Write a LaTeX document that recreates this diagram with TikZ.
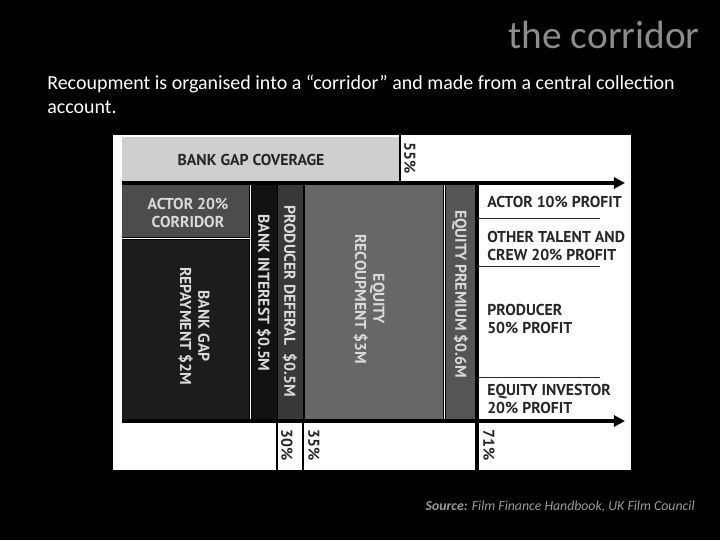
\documentclass[tikz,border=0pt]{standalone}
\usepackage{fontspec}
\setmainfont{Carlito}
\newfontfamily\chartfont{PT Sans}
\usetikzlibrary{positioning,arrows.meta}

\definecolor{titlegray}{HTML}{8C8C8C}
\definecolor{srcgray}{HTML}{9A9A9A}
\definecolor{covergray}{HTML}{CFCFCF}
\definecolor{actorgray}{HTML}{4C4C4C}
\definecolor{repaydark}{HTML}{1C1C1C}
\definecolor{interestdark}{HTML}{121212}
\definecolor{deferalgray}{HTML}{383838}
\definecolor{recoupgray}{HTML}{676767}
\definecolor{premiumgray}{HTML}{555555}
\definecolor{inktext}{HTML}{262626}
\definecolor{paletext}{HTML}{DADADA}

\tikzset{
  chart/.style={font=\chartfont\bfseries\fontsize{11.2}{13}\selectfont, inner sep=0pt, align=center},
  darkchart/.style={chart, text=inktext},
  palechart/.style={chart, text=paletext},
  sideways/.style={rotate=-90},
  profit/.style={darkchart, anchor=west, align=left},
  flow/.style={line width=2.2pt, -{Triangle[length=8pt,width=8pt]}},
  cut/.style={line width=1.6pt},
  split/.style={line width=0.6pt, inktext},
}

\begin{document}
\begin{tikzpicture}[x=0.025cm, y=-0.025cm]
    % slide
    \fill[black] (0,0) rectangle (720,540);
    \useasboundingbox (0,0) rectangle (720,540);
    \node[anchor=east, text=titlegray, font=\fontsize{28}{30}\selectfont, inner sep=0pt] (title) at (700,35) {the corridor};
    \node[anchor=north west, text=white, font=\fontsize{14.2}{17}\selectfont, align=left, inner sep=0pt] (intro) at (47,75)
        {Recoupment is organised into a ``corridor'' and made from a central collection\\account.};

    % scanned chart
    \fill[white] (113,135) rectangle (631,470);
    \fill[covergray] (122,137) rectangle (400,181);
    \fill[black] (122,181) rectangle (477,421);
    \fill[actorgray] (122,185) rectangle (249,237);
    \fill[repaydark] (122,239.5) rectangle (249,419);
    \fill[interestdark] (251.5,185) rectangle (277,419);
    \fill[deferalgray] (278,185) rectangle (303,419);
    \fill[recoupgray] (305,185) rectangle (443,419);
    \fill[premiumgray] (445.5,185) rectangle (475,419);
    \draw[white, line width=0.9pt] (122,238.3) -- (250.3,238.3);
    \draw[white, line width=0.9pt] (250.3,185) -- (250.3,419);
    \draw[white, line width=0.9pt] (444.3,185) -- (444.3,419);

    \node[darkchart] (cover) at (251,160) {BANK GAP COVERAGE};
    \node[palechart] (actorcorr) at (188,213) {ACTOR 20\%\\CORRIDOR};
    \node[palechart, sideways] (repay) at (194,326) {BANK GAP\\REPAYMENT \$2M};
    \node[palechart, sideways] (interest) at (264,293) {BANK INTEREST \$0.5M};
    \node[palechart, sideways] (deferal) at (290,301) {PRODUCER DEFERAL \ \$0.5M};
    \node[palechart, sideways] (recoup) at (369,299) {EQUITY\\RECOUPMENT \$3M};
    \node[palechart, sideways] (premium) at (460,294) {EQUITY PREMIUM \$0.6M};

    % flow lines and cut-off points
    \coordinate (topstart) at (122,183);
    \coordinate (topend) at (625,183);
    \coordinate (botstart) at (122,421);
    \coordinate (botend) at (625,421);
    \coordinate (covertop) at (400,135);
    \coordinate (cut30) at (277,470);
    \coordinate (cut35) at (303,470);
    \coordinate (cut71) at (477,470);
    \draw[cut] (covertop) -- (covertop |- topstart);
    \draw[cut] (cut30) -- (cut30 |- botstart);
    \draw[cut] (cut35) -- (cut35 |- botstart);
    \draw[line width=2.2pt] (cut71) -- (cut71 |- topstart);
    \draw[flow] (topstart) -- (topend);
    \draw[flow] (botstart) -- (botend);

    \node[darkchart, sideways] (p55) at (410,158) {55\%};
    \node[darkchart, sideways] (p30) at (287,445) {30\%};
    \node[darkchart, sideways] (p35) at (314,445) {35\%};
    \node[darkchart, sideways] (p71) at (489,445) {71\%};

    % profit shares
    \node[profit] (actorprofit) at (487,202) {ACTOR 10\% PROFIT};
    \node[profit] (crewprofit) at (487,246) {OTHER TALENT AND\\CREW 20\% PROFIT};
    \node[profit] (producerprofit) at (487,319) {PRODUCER\\50\% PROFIT};
    \node[profit] (investorprofit) at (487,399) {EQUITY INVESTOR\\20\% PROFIT};
    \coordinate (splitA) at (478,218);
    \coordinate (splitB) at (478,266.5);
    \coordinate (splitC) at (478,377);
    \draw[split] (splitA) -- ++(122,0);
    \draw[split] (splitB) -- ++(122,0);
    \draw[split] (splitC) -- ++(122,0);

    % source
    \node[anchor=east, text=srcgray, font=\fontsize{9.8}{11}\selectfont\itshape, inner sep=0pt] (source) at (695,507)
        {\textbf{Source:} Film Finance Handbook, UK Film Council};
\end{tikzpicture}
\end{document}
